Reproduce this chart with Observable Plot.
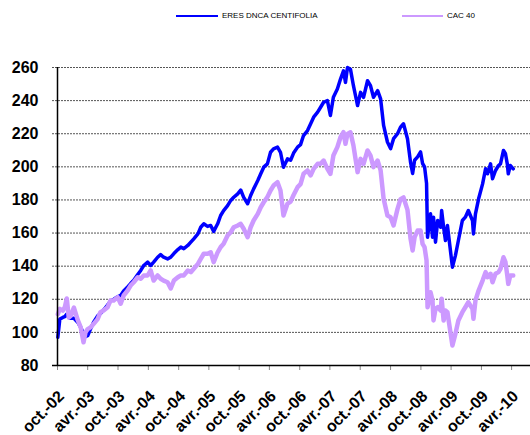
<!DOCTYPE html>
<html>
<head>
<meta charset="utf-8">
<script src="https://cdn.jsdelivr.net/npm/d3@7"></script>
<script src="https://cdn.jsdelivr.net/npm/@observablehq/plot@0.6"></script>
<style>
  html, body { margin: 0; padding: 0; background: #fff; }
  body { width: 530px; height: 435px; overflow: hidden; font-family: "Liberation Sans", Arial, sans-serif; }
  #legend { position: relative; height: 30px; width: 530px; }
  .lg-line { position: absolute; height: 0; }
  .lg-text { position: absolute; font-size: 8px; color: #000; line-height: 8px; }
  svg { display: block; }
</style>
</head>
<body>
<div id="legend">
  <div class="lg-line" style="left:176px; top:14.5px; width:42px; border-top:2.5px solid #0000ff;"></div>
  <div class="lg-text" style="left:222px; top:12px;">ERES DNCA CENTIFOLIA</div>
  <div class="lg-line" style="left:402px; top:14.5px; width:41px; border-top:2.5px solid #cc99ff;"></div>
  <div class="lg-text" style="left:447px; top:12px;">CAC 40</div>
</div>
<div id="chart"></div>
<script>
const dates = [
"2002-10-03","2002-10-15","2002-11-02","2002-11-14","2002-11-26","2002-12-08","2002-12-20","2003-01-08","2003-02-01","2003-02-18",
"2003-03-07","2003-03-19","2003-04-01","2003-04-18","2003-05-06","2003-05-31","2003-06-17","2003-07-06","2003-07-30","2003-08-17",
"2003-09-05","2003-09-29","2003-10-17","2003-11-04","2003-11-28","2003-12-16","2004-01-04","2004-01-28","2004-02-15","2004-03-04",
"2004-03-28","2004-04-15","2004-05-03","2004-05-27","2004-06-14","2004-07-02","2004-07-26","2004-08-14","2004-09-02","2004-09-26",
"2004-10-14","2004-11-01","2004-11-25","2004-12-13","2004-12-31","2005-01-25","2005-02-11","2005-03-01","2005-03-24","2005-04-12",
"2005-04-30","2005-05-24","2005-06-11","2005-06-29","2005-07-23","2005-08-11","2005-08-29","2005-09-22","2005-10-10","2005-10-28",
"2005-11-21","2005-12-09","2005-12-27","2006-01-21","2006-02-08","2006-02-26","2006-03-20","2006-04-08","2006-04-26","2006-05-20",
"2006-06-07","2006-06-25","2006-07-19","2006-08-07","2006-08-25","2006-09-18","2006-10-06","2006-10-24","2006-11-17","2006-12-06",
"2006-12-24","2007-01-17","2007-02-04","2007-02-22","2007-03-17","2007-04-04","2007-04-22","2007-05-16","2007-06-04","2007-06-22",
"2007-07-04","2007-07-16","2007-08-03","2007-08-21","2007-09-15","2007-10-03","2007-10-21","2007-11-14","2007-12-02","2007-12-20",
"2008-01-14","2008-02-01","2008-02-19","2008-03-13","2008-04-01","2008-04-19","2008-05-13","2008-05-31","2008-06-18","2008-07-12",
"2008-07-30","2008-08-12","2008-08-24","2008-09-11","2008-09-29","2008-10-11","2008-10-23","2008-11-04","2008-11-10","2008-11-28",
"2008-12-10","2008-12-16","2008-12-28","2009-01-10","2009-01-28","2009-02-03","2009-02-15","2009-02-26","2009-03-10","2009-03-28",
"2009-04-09","2009-04-27","2009-05-15","2009-06-08","2009-06-26","2009-07-14","2009-08-08","2009-08-14","2009-08-26","2009-09-14",
"2009-10-08","2009-10-26","2009-11-07","2009-11-25","2009-12-07","2009-12-25","2010-01-12","2010-01-24","2010-02-11","2010-02-23",
"2010-03-06","2010-03-12","2010-03-24","2010-04-11"
];

const centifolia = [
97,108,109,109.5,111,109,108.5,108.5,106,103,
99.5,97.5,98,102,106,110,111.4,113.5,116.5,119,
120,121.5,122.3,125,127.5,129.5,131.5,135,137.4,140.4,
142.4,140.4,142.4,145.4,147,145.4,144.4,145.4,147.6,150,
151.5,150.6,152.5,154.5,156.5,159.5,163.5,165.6,164,164.6,
161,165.6,170.6,173.6,176.6,179.7,181.6,183.7,186,181.6,
177.7,182.7,186.7,191.7,195.8,199.8,201.8,208.8,210.9,211.9,
208.8,199.8,204.8,204,208.3,211.9,213.4,218.9,221.9,226,
230,233,236,239,240,231,242,247,253,258,
251,260,259,249,237,245,242,252,249,242,
246,241,225,215,211,217,220,224,226,217,
203,196,204,206,209,202,200,190,157.5,171.6,
157.5,169.6,154.5,167.6,163.5,173.6,163.5,155.5,164.6,149.5,
139.4,146.4,155.5,167.6,169.6,173.6,167.6,159.5,171.6,180.7,
189.7,198.8,195.8,201.8,192.8,197.8,200.8,201.8,209.9,207.9,
201.8,195.8,200.8,198.8
];

const cac40 = [
111,114.2,113.2,115.2,120.5,109,110,115,107.2,103,
94,100,102,103,105,108,112.2,113.2,115.2,119.3,
119.3,121.3,117.3,122.3,125.3,128.3,130.3,133.3,132.4,134.4,
134.4,137.4,131.3,134.4,132.4,131.3,130.3,126.5,131.3,133.3,
134.4,134.4,137.4,136.4,138.4,141.4,144.4,147.5,147.5,148.4,
142.4,148.4,151.5,153.5,158.5,160.5,163.5,164.6,165.6,162.6,
157.5,163.5,167.6,171.6,175.6,178.6,181.7,185.7,188.7,190.7,
185.7,170.6,177.7,179,183,187.7,189.5,195.8,197.8,194.8,
198.8,201.8,201.8,203.8,198.8,195.8,206.8,211.9,217.9,220.9,
213.9,219.9,220.9,212.9,196.8,204.8,201.8,209.9,206.8,199.8,
203.8,197.8,180.7,170.6,169.6,164.6,174.6,180.5,181.5,174,
157,149.5,157.5,161.5,161.5,153.5,151.5,143.4,115.2,124.3,
119.3,107.2,114.2,115.2,113.2,120.3,107.2,113.2,112.2,100.1,
92.1,99.1,107.2,112.2,115.2,118.2,114.2,108.2,119.3,125.3,
131.3,136.4,133.3,135.4,130.3,135.4,136.4,138.4,145.4,142.4,
134.4,129.3,134.4,134.4
];

const tickDates = ["2002-10-01","2003-04-01","2003-10-01","2004-04-01","2004-10-01","2005-04-01","2005-10-01","2006-04-01",
  "2006-10-01","2007-04-01","2007-10-01","2008-04-01","2008-10-01","2009-04-01","2009-10-01","2010-04-01"];
const tickLabels = ["oct.-02","avr.-03","oct.-03","avr.-04","oct.-04","avr.-05","oct.-05","avr.-06",
  "oct.-06","avr.-07","oct.-07","avr.-08","oct.-08","avr.-09","oct.-09","avr.-10"];
const yTicks = [80,100,120,140,160,180,200,220,240,260];

const parse = d3.utcParse("%Y-%m-%d");
const rows = [];
dates.forEach((d, i) => {
  rows.push({date: parse(d), value: centifolia[i], series: "ERES DNCA CENTIFOLIA"});
});
dates.forEach((d, i) => {
  rows.push({date: parse(d), value: cac40[i], series: "CAC 40"});
});
const tickTimes = tickDates.map(parse);
const labelOf = new Map(tickTimes.map((t, i) => [+t, tickLabels[i]]));

const font = "Liberation Sans, Arial, sans-serif";
const chart = Plot.plot({
  width: 530,
  height: 405,
  marginTop: 37,
  marginBottom: 70,
  marginLeft: 57,
  marginRight: 0,
  style: {fontFamily: font, background: "#fff", overflow: "visible"},
  x: {type: "utc", domain: [parse("2002-10-01"), parse("2010-07-24")]},
  y: {domain: [80, 260]},
  marks: [
    Plot.ruleY(yTicks.filter(v => v > 80), {stroke: "#555", strokeWidth: 1, strokeDasharray: "2,1", insetLeft: -5}),
    Plot.axisY({ticks: yTicks, tickSize: 0, tickPadding: 19, fontSize: 16, fontWeight: "bold", fill: "#000", label: null}),
    Plot.axisX({ticks: tickTimes, tickFormat: () => "", tickSize: 5, stroke: "#888", label: null}),
    Plot.axisX({ticks: tickTimes, tickFormat: d => labelOf.get(+d), tickRotate: -45, tickSize: 0, tickPadding: 0,
      dx: 4, dy: 28, fontSize: 16, fontWeight: "bold", fill: "#000", label: null}),
    Plot.lineY(rows.filter(r => r.series === "ERES DNCA CENTIFOLIA"), {x: "date", y: "value", stroke: "#0000ff", strokeWidth: 3.5, curve: "linear"}),
    Plot.lineY(rows.filter(r => r.series === "CAC 40"), {x: "date", y: "value", stroke: "#cc99ff", strokeWidth: 4.5, curve: "linear"}),
    Plot.ruleX([parse("2002-10-01")], {stroke: "#000", strokeWidth: 1.5}),
    Plot.ruleY([80], {stroke: "#000", strokeWidth: 1.5, insetLeft: -5})
  ]
});
document.getElementById("chart").appendChild(chart);
</script>
</body>
</html>
